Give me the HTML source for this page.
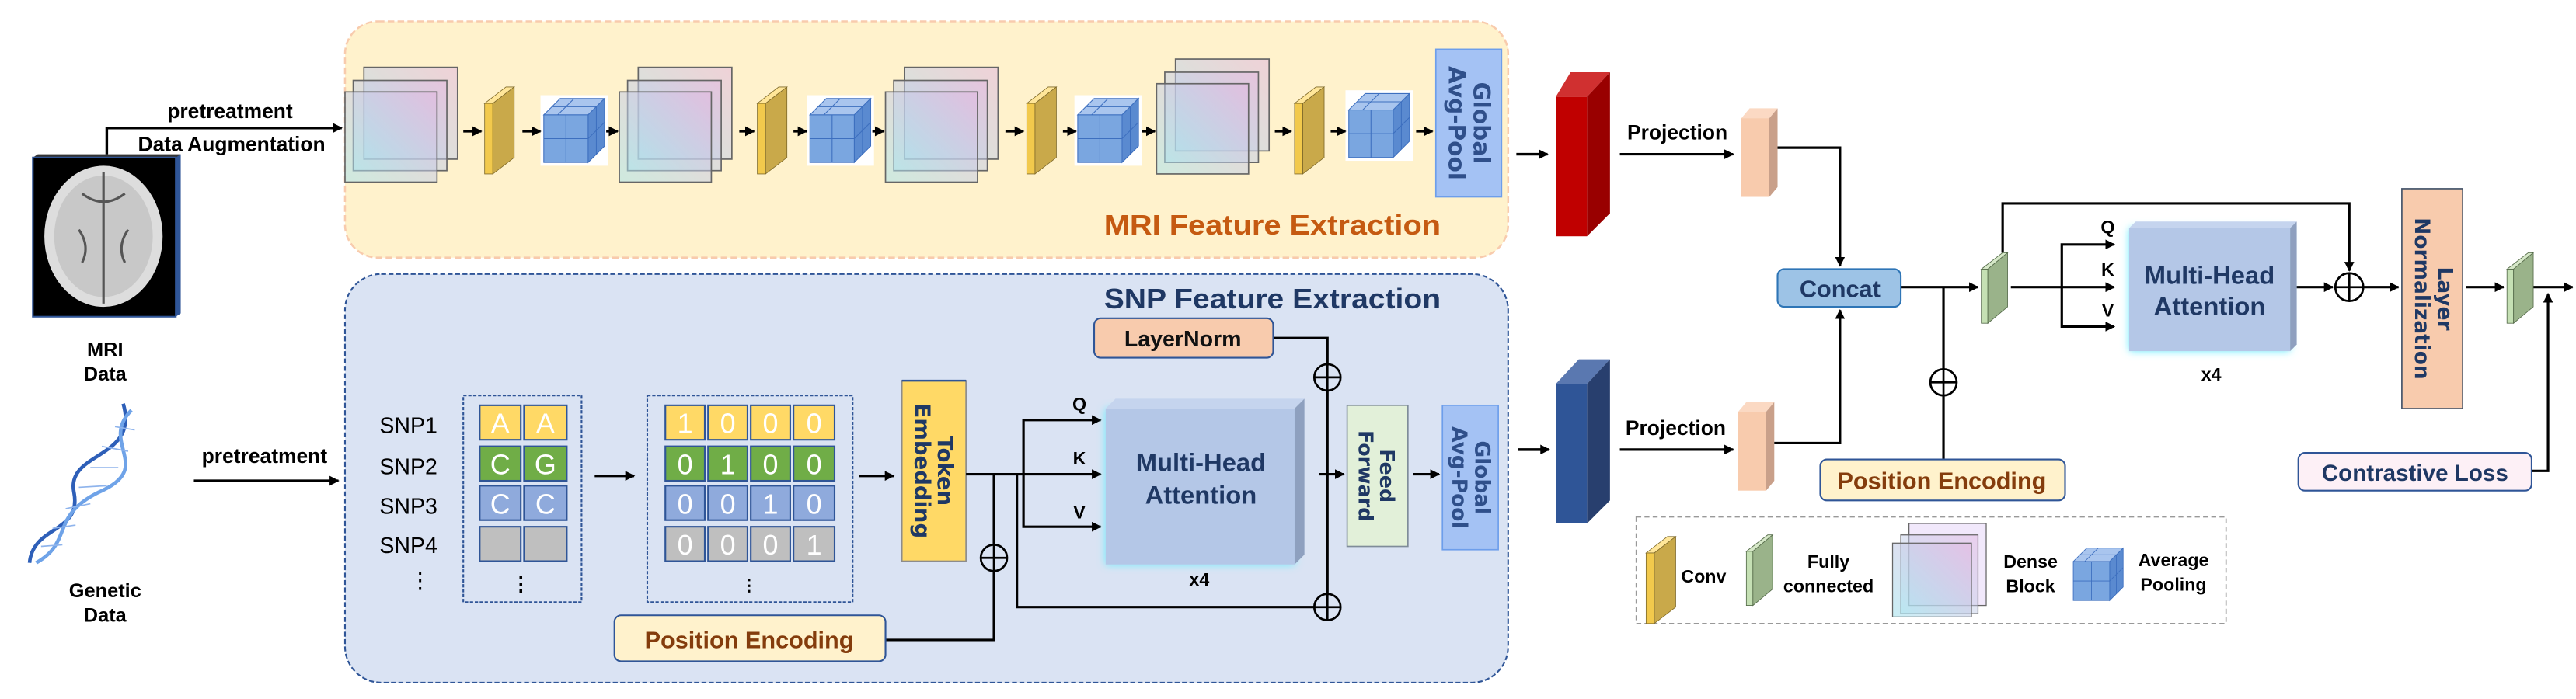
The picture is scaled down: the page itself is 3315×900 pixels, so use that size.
<!DOCTYPE html>
<html><head><meta charset="utf-8"><style>
html,body{margin:0;padding:0;background:#fff;}
svg{display:block;}
text{font-family:"Liberation Sans",sans-serif;font-weight:bold;}
.v{font-family:"DejaVu Sans","Liberation Sans",sans-serif;font-weight:bold;}
</style></head><body>
<svg width="3315" height="900" viewBox="0 0 1568 426" preserveAspectRatio="none" xmlns="http://www.w3.org/2000/svg">
<defs>
<marker id="ar" viewBox="0 0 10 10" refX="9" refY="5" markerWidth="6" markerHeight="6" markerUnits="userSpaceOnUse" orient="auto"><path d="M0,0 L10,5 L0,10 z" fill="#000"/></marker>
<linearGradient id="dg" x1="0" y1="1" x2="1" y2="0"><stop offset="0" stop-color="#a6e3ee"/><stop offset="1" stop-color="#e2b7e0"/></linearGradient>
<filter id="glow" x="-20%" y="-20%" width="140%" height="140%"><feDropShadow dx="0" dy="0" stdDeviation="2.5" flood-color="#66eeff"/></filter>
<g id="dense">
<rect x="11.5" y="0" width="57" height="56" fill="url(#dg)" fill-opacity="0.55" stroke="#666" stroke-width="0.8"/>
<rect x="5" y="8" width="57" height="55" fill="url(#dg)" fill-opacity="0.55" stroke="#666" stroke-width="0.8"/>
<rect x="0" y="15" width="56" height="55" fill="url(#dg)" fill-opacity="0.55" stroke="#666" stroke-width="0.8"/>
</g>
<g id="conv">
<polygon points="0,10 13,0 18,0 5,10" fill="#ffe699" stroke="#7f6a2a" stroke-width="0.4"/>
<rect x="0" y="10" width="5" height="43" fill="#f2c94c" stroke="#7f6a2a" stroke-width="0.4"/>
<polygon points="5,10 18,0 18,43 5,53" fill="#c9a94a" stroke="#7f6a2a" stroke-width="0.4"/>
</g>
<g id="fc">
<polygon points="0,10 13,0 16,0 4,10" fill="#d6e8c8" stroke="#556b4a" stroke-width="0.4"/>
<rect x="0" y="10" width="4" height="33" fill="#c5e0b4" stroke="#556b4a" stroke-width="0.4"/>
<polygon points="4,10 16,0 16,33 4,43" fill="#9ab38a" stroke="#556b4a" stroke-width="0.4"/>
</g>
<g id="cube">
<rect x="-2" y="-2" width="41" height="43" fill="#fff"/>
<polygon points="0,10 10,0 37,0 27,10" fill="#a9c5ee" stroke="#3d6fbf" stroke-width="0.5"/>
<polygon points="27,10 37,0 37,29 27,39" fill="#5a8ad0" stroke="#3d6fbf" stroke-width="0.5"/>
<rect x="0" y="10" width="27" height="29" fill="#7aa6e0" stroke="#3d6fbf" stroke-width="0.5"/>
<path d="M13.5,10 V39 M0,24.5 H27 M5,5 H32 M18.5,0 L8.5,10 M32,5 V34 M27,24.5 L37,14.5" stroke="#3d6fbf" stroke-width="0.5" fill="none"/>
</g>
</defs>

<rect x="210" y="13" width="708" height="144" rx="20" fill="#fff2cc" stroke="#f8cbad" stroke-width="1.2" stroke-dasharray="4,2"/>
<rect x="210" y="167" width="708" height="249" rx="22" fill="#dae3f3" stroke="#2f5597" stroke-width="1" stroke-dasharray="3,1.5"/>

<polygon points="20,96 23,94 110,94 109,96" fill="#333"/>
<polygon points="107,96 110,94 110,191 107,193" fill="#2f5597"/>
<rect x="20" y="96" width="87" height="97" fill="#000" stroke="#2f5597" stroke-width="1"/>
<ellipse cx="63" cy="144" rx="36" ry="43" fill="#ddd"/>
<ellipse cx="63" cy="144" rx="30" ry="37" fill="#c8c8c8"/>
<path d="M63,105 V185 M50,118 Q63,128 76,118 M48,140 Q55,150 50,160 M78,140 Q71,150 76,160" stroke="#555" stroke-width="1.5" fill="none"/>
<text x="64" y="217" font-size="12" text-anchor="middle">MRI</text>
<text x="64" y="232" font-size="12" text-anchor="middle">Data</text>

<g fill="none" stroke-width="2.2">
<path d="M75,246 C85,280 40,275 45,300 C50,325 20,320 18,343" stroke="#2e5fb8"/>
<path d="M80,250 C60,270 95,285 60,300 C30,315 45,330 22,343" stroke="#6fa3e8"/>
</g>
<g stroke="#8fb4ec" stroke-width="0.8">
<path d="M70,260 L82,262 M62,272 L78,275 M55,285 L72,285 M48,297 L65,296 M40,310 L55,307 M32,322 L46,320 M25,333 L38,332"/>
</g>
<text x="64" y="364" font-size="12" text-anchor="middle">Genetic</text>
<text x="64" y="379" font-size="12" text-anchor="middle">Data</text>

<path d="M65,94 V78 H208" stroke="#000" stroke-width="1.6" fill="none" marker-end="url(#ar)"/>
<text x="140" y="72" font-size="12.5" text-anchor="middle">pretreatment</text>
<text x="141" y="92" font-size="12.5" text-anchor="middle">Data Augmentation</text>
<path d="M118,293 H206" stroke="#000" stroke-width="1.6" fill="none" marker-end="url(#ar)"/>
<text x="161" y="282" font-size="12.5" text-anchor="middle">pretreatment</text>

<use href="#dense" x="210" y="41"/>
<use href="#conv" x="295" y="53"/>
<use href="#cube" x="331" y="60"/>
<use href="#dense" x="377" y="41"/>
<use href="#conv" x="461" y="53"/>
<use href="#cube" x="493" y="60"/>
<use href="#dense" x="539" y="41"/>
<use href="#conv" x="625" y="53"/>
<use href="#cube" x="656" y="60"/>
<use href="#dense" x="704" y="36"/>
<use href="#conv" x="788" y="53"/>
<use href="#cube" x="821" y="57"/>
<g stroke="#000" stroke-width="1.5" marker-end="url(#ar)">
<path d="M282,80 H293"/><path d="M318,80 H329"/><path d="M369,80 H376"/>
<path d="M450,80 H459"/><path d="M483,80 H491"/><path d="M531,80 H538"/>
<path d="M612,80 H623"/><path d="M647,80 H655"/><path d="M695,80 H703"/>
<path d="M776,80 H786"/><path d="M810,80 H819"/><path d="M862,80 H872"/>
</g>
<rect x="874" y="30" width="40" height="90" fill="#a4c2f4" stroke="#6d9eeb" stroke-width="0.8"/>
<text class="v" transform="translate(894,75) rotate(90)" font-size="14" fill="#2f4f8a" text-anchor="middle"><tspan x="0" y="-3">Global</tspan><tspan x="0" y="12">Avg-Pool</tspan></text>
<text x="877" y="143" font-size="17" fill="#c55a11" text-anchor="end" textLength="205" lengthAdjust="spacingAndGlyphs">MRI Feature Extraction</text>

<text x="877" y="188" font-size="17" fill="#1f3864" text-anchor="end" textLength="205" lengthAdjust="spacingAndGlyphs">SNP Feature Extraction</text>
<g font-size="13.5">
<text x="231" y="264" style="font-weight:normal">SNP1</text>
<text x="231" y="289" style="font-weight:normal">SNP2</text>
<text x="231" y="313" style="font-weight:normal">SNP3</text>
<text x="231" y="337" style="font-weight:normal">SNP4</text>
<text x="249" y="358" style="font-weight:normal">⋮</text>
</g>
<rect x="282" y="241" width="72" height="126" fill="none" stroke="#2f5597" stroke-width="1" stroke-dasharray="2,1"/>
<rect x="394" y="241" width="125" height="126" fill="none" stroke="#2f5597" stroke-width="1" stroke-dasharray="2,1"/>
<g stroke="#2f5597" stroke-width="1">
<rect x="292" y="247" width="25" height="21" fill="#ffd966"/><rect x="319" y="247" width="26" height="21" fill="#ffd966"/>
<rect x="292" y="272" width="25" height="21" fill="#70ad47"/><rect x="319" y="272" width="26" height="21" fill="#70ad47"/>
<rect x="292" y="296" width="25" height="21" fill="#8faadc"/><rect x="319" y="296" width="26" height="21" fill="#8faadc"/>
<rect x="292" y="321" width="25" height="21" fill="#bfbfbf"/><rect x="319" y="321" width="26" height="21" fill="#bfbfbf"/>
<rect x="405" y="247" width="24" height="21" fill="#ffd966"/><rect x="431" y="247" width="24" height="21" fill="#ffd966"/><rect x="457" y="247" width="24" height="21" fill="#ffd966"/><rect x="483" y="247" width="25" height="21" fill="#ffd966"/>
<rect x="405" y="272" width="24" height="21" fill="#70ad47"/><rect x="431" y="272" width="24" height="21" fill="#70ad47"/><rect x="457" y="272" width="24" height="21" fill="#70ad47"/><rect x="483" y="272" width="25" height="21" fill="#70ad47"/>
<rect x="405" y="296" width="24" height="21" fill="#8faadc"/><rect x="431" y="296" width="24" height="21" fill="#8faadc"/><rect x="457" y="296" width="24" height="21" fill="#8faadc"/><rect x="483" y="296" width="25" height="21" fill="#8faadc"/>
<rect x="405" y="321" width="24" height="21" fill="#bfbfbf"/><rect x="431" y="321" width="24" height="21" fill="#bfbfbf"/><rect x="457" y="321" width="24" height="21" fill="#bfbfbf"/><rect x="483" y="321" width="25" height="21" fill="#bfbfbf"/>
</g>
<g fill="#fff" font-size="17" text-anchor="middle">
<text x="304.5" y="264" style="font-weight:normal">A</text><text x="332" y="264" style="font-weight:normal">A</text>
<text x="304.5" y="289" style="font-weight:normal">C</text><text x="332" y="289" style="font-weight:normal">G</text>
<text x="304.5" y="313" style="font-weight:normal">C</text><text x="332" y="313" style="font-weight:normal">C</text>
<text x="417" y="264" style="font-weight:normal">1</text><text x="443" y="264" style="font-weight:normal">0</text><text x="469" y="264" style="font-weight:normal">0</text><text x="495.5" y="264" style="font-weight:normal">0</text>
<text x="417" y="289" style="font-weight:normal">0</text><text x="443" y="289" style="font-weight:normal">1</text><text x="469" y="289" style="font-weight:normal">0</text><text x="495.5" y="289" style="font-weight:normal">0</text>
<text x="417" y="313" style="font-weight:normal">0</text><text x="443" y="313" style="font-weight:normal">0</text><text x="469" y="313" style="font-weight:normal">1</text><text x="495.5" y="313" style="font-weight:normal">0</text>
<text x="417" y="338" style="font-weight:normal">0</text><text x="443" y="338" style="font-weight:normal">0</text><text x="469" y="338" style="font-weight:normal">0</text><text x="495.5" y="338" style="font-weight:normal">1</text>
</g>
<text x="317" y="360" font-size="12" text-anchor="middle">⋮</text>
<text x="456" y="360" font-size="10" text-anchor="middle">⋮</text>
<g stroke="#000" stroke-width="1.6" fill="none" marker-end="url(#ar)">
<path d="M362,290 H386"/><path d="M523,290 H544"/>
</g>
<rect x="549" y="232" width="39" height="110" fill="#ffd966" stroke="#8c8c8c" stroke-width="0.8"/>
<line x1="549" y1="232" x2="588" y2="232" stroke="#2f5597" stroke-width="1.2"/>
<text class="v" transform="translate(568,287) rotate(90)" font-size="13" fill="#1f3864" text-anchor="middle"><tspan x="0" y="-3">Token</tspan><tspan x="0" y="11">Embedding</tspan></text>

<g stroke="#000" stroke-width="1.5" fill="none">
<path d="M588,289 H670" marker-end="url(#ar)"/>
<path d="M623,289 V256 H670" marker-end="url(#ar)"/>
<path d="M623,289 V321 H670" marker-end="url(#ar)"/>
<path d="M605,289 V332"/>
<path d="M539,390 H605 V348"/>
<path d="M619,289 V370 H800"/>
<path d="M775,206 H808 V222"/>
<path d="M808,238 V362"/>
<path d="M803,289 H818" marker-end="url(#ar)"/>
<path d="M860,289 H876" marker-end="url(#ar)"/>
</g>
<g stroke="#000" stroke-width="1.3" fill="none">
<circle cx="605" cy="340" r="8"/><path d="M597,340 H613 M605,332 V348"/>
<circle cx="808" cy="230" r="8"/><path d="M800,230 H816 M808,222 V238"/>
<circle cx="808" cy="370" r="8"/><path d="M800,370 H816 M808,362 V378"/>
</g>
<g font-size="11">
<text x="657" y="250" text-anchor="middle">Q</text>
<text x="657" y="283" text-anchor="middle">K</text>
<text x="657" y="316" text-anchor="middle">V</text>
</g>
<g filter="url(#glow)">
<rect x="673" y="249" width="115" height="95" fill="#b4c7e7"/>
</g>
<polygon points="673,249 679,243 794,243 788,249" fill="#c5d4ee"/>
<polygon points="788,249 794,243 794,338 788,344" fill="#8ea0bf"/>
<text x="731" y="287" font-size="15.5" fill="#1f3864" text-anchor="middle">Multi-Head</text>
<text x="731" y="307" font-size="15.5" fill="#1f3864" text-anchor="middle">Attention</text>
<text x="730" y="357" font-size="11" text-anchor="middle">x4</text>
<rect x="666" y="194" width="109" height="24" rx="4" fill="#f8cbad" stroke="#2f5597" stroke-width="1"/>
<text x="720" y="211" font-size="13.5" text-anchor="middle" fill="#111">LayerNorm</text>
<rect x="374" y="375" width="165" height="28" rx="4" fill="#fff2cc" stroke="#2f5597" stroke-width="1"/>
<text x="456" y="395" font-size="14.5" text-anchor="middle" fill="#843c0c">Position Encoding</text>
<rect x="820" y="247" width="37" height="86" fill="#e2f0d9" stroke="#7f8c99" stroke-width="0.8"/>
<text class="v" transform="translate(838,290) rotate(90)" font-size="12" fill="#1f3864" text-anchor="middle"><tspan x="0" y="-2">Feed</tspan><tspan x="0" y="11">Forward</tspan></text>
<rect x="878" y="247" width="34" height="88" fill="#a4c2f4" stroke="#6d9eeb" stroke-width="0.8"/>
<text class="v" transform="translate(895,291) rotate(90)" font-size="12.5" fill="#2f4f8a" text-anchor="middle"><tspan x="0" y="-3">Global</tspan><tspan x="0" y="11">Avg-Pool</tspan></text>

<g stroke="#000" stroke-width="1.6" fill="none">
<path d="M923,94 H942" marker-end="url(#ar)"/>
<path d="M924,274 H943" marker-end="url(#ar)"/>
</g>
<polygon points="947,59 956,44 980,44 966,59" fill="#d03030"/>
<polygon points="966,59 980,44 980,130 966,144" fill="#990000"/>
<rect x="947" y="59" width="19" height="85" fill="#c00000"/>
<polygon points="947,234 961,219 980,219 966,234" fill="#5a78b0"/>
<polygon points="966,234 980,219 980,305 966,319" fill="#283f6e"/>
<rect x="947" y="234" width="19" height="85" fill="#2f5597"/>
<text x="1021" y="85" font-size="12.5" text-anchor="middle">Projection</text>
<text x="1020" y="265" font-size="12.5" text-anchor="middle">Projection</text>
<g stroke="#000" stroke-width="1.5" fill="none" marker-end="url(#ar)">
<path d="M986,94 H1055"/><path d="M986,274 H1055"/>
</g>
<polygon points="1060,72 1065,66 1082,66 1077,72" fill="#fbd9c3"/>
<polygon points="1077,72 1082,66 1082,114 1077,120" fill="#c9a08a"/>
<rect x="1060" y="72" width="17" height="48" fill="#f8cbad"/>
<polygon points="1058,251 1063,245 1080,245 1075,251" fill="#fbd9c3"/>
<polygon points="1075,251 1080,245 1080,293 1075,299" fill="#c9a08a"/>
<rect x="1058" y="251" width="17" height="48" fill="#f8cbad"/>
<g stroke="#000" stroke-width="1.5" fill="none">
<path d="M1082,90 H1120 V162" marker-end="url(#ar)"/>
<path d="M1080,270 H1120 V189" marker-end="url(#ar)"/>
<path d="M1157,175 H1204" marker-end="url(#ar)"/>
<path d="M1183,175 V225"/>
<path d="M1183,241 V280"/>
<path d="M1224,175 H1287" marker-end="url(#ar)"/>
<path d="M1255,175 V149 H1287" marker-end="url(#ar)"/>
<path d="M1255,175 V199 H1287" marker-end="url(#ar)"/>
<path d="M1219,154 V124 H1430 V165" marker-end="url(#ar)"/>
<path d="M1398,175 H1420" marker-end="url(#ar)"/>
<path d="M1439,175 H1460" marker-end="url(#ar)"/>
<path d="M1501,175 H1524" marker-end="url(#ar)"/>
<path d="M1541,175 H1566" marker-end="url(#ar)"/>
<path d="M1541,287 H1551 V179" marker-end="url(#ar)"/>
</g>
<g stroke="#000" stroke-width="1.3" fill="none">
<circle cx="1183" cy="233" r="8"/><path d="M1175,233 H1191 M1183,225 V241"/>
<circle cx="1430" cy="175" r="8.5"/><path d="M1421.5,175 H1438.5 M1430,166.5 V183.5"/>
</g>
<rect x="1082" y="164" width="75" height="23" rx="4" fill="#9dc3e6" stroke="#2e75b6" stroke-width="1"/>
<text x="1120" y="181" font-size="14.5" text-anchor="middle" fill="#1f3864">Concat</text>
<use href="#fc" x="1206" y="154"/>
<use href="#fc" x="1526" y="154"/>
<g font-size="11">
<text x="1283" y="142" text-anchor="middle">Q</text>
<text x="1283" y="168" text-anchor="middle">K</text>
<text x="1283" y="193" text-anchor="middle">V</text>
</g>
<g filter="url(#glow)">
<rect x="1296" y="139" width="98" height="75" fill="#b4c7e7"/>
</g>
<polygon points="1296,139 1300,135 1398,135 1394,139" fill="#c5d4ee"/>
<polygon points="1394,139 1398,135 1398,210 1394,214" fill="#8ea0bf"/>
<text x="1345" y="173" font-size="15.5" fill="#1f3864" text-anchor="middle">Multi-Head</text>
<text x="1345" y="192" font-size="15.5" fill="#1f3864" text-anchor="middle">Attention</text>
<text x="1346" y="232" font-size="11" text-anchor="middle">x4</text>
<rect x="1462" y="115" width="37" height="134" fill="#f8cbad" stroke="#44546a" stroke-width="0.8"/>
<text class="v" transform="translate(1481,182) rotate(90)" font-size="12.5" fill="#1f3864" text-anchor="middle"><tspan x="0" y="-3">Layer</tspan><tspan x="0" y="11">Normalization</tspan></text>
<rect x="1108" y="280" width="149" height="25" rx="4" fill="#fff2cc" stroke="#2f5597" stroke-width="1"/>
<text x="1182" y="298" font-size="14.5" text-anchor="middle" fill="#843c0c">Position Encoding</text>
<rect x="1399" y="276" width="142" height="23" rx="4" fill="#fdf0f6" stroke="#2f5597" stroke-width="1"/>
<text x="1470" y="293" font-size="14" text-anchor="middle" fill="#1f3864">Contrastive Loss</text>

<rect x="996" y="315" width="359" height="65" fill="#fff" stroke="#999" stroke-width="0.8" stroke-dasharray="3,2"/>
<use href="#conv" x="1002" y="327"/>
<use href="#fc" x="1063" y="326"/>
<text x="1037" y="355" font-size="11" text-anchor="middle">Conv</text>
<text x="1113" y="346" font-size="11" text-anchor="middle">Fully</text>
<text x="1113" y="361" font-size="11" text-anchor="middle">connected</text>
<g>
<rect x="1162" y="319" width="47" height="50" fill="#e8d8f8" fill-opacity="0.6" stroke="#666" stroke-width="0.6"/>
<rect x="1157" y="326" width="47" height="48" fill="url(#dg)" fill-opacity="0.5" stroke="#666" stroke-width="0.6"/>
<rect x="1152" y="331" width="48" height="45" fill="url(#dg)" fill-opacity="0.6" stroke="#666" stroke-width="0.6"/>
</g>
<text x="1236" y="346" font-size="11" text-anchor="middle">Dense</text>
<text x="1236" y="361" font-size="11" text-anchor="middle">Block</text>
<use href="#cube" x="1262" y="334" transform="translate(1262,334) scale(0.82) translate(-1262,-334)"/>
<text x="1323" y="345" font-size="11" text-anchor="middle">Average</text>
<text x="1323" y="360" font-size="11" text-anchor="middle">Pooling</text>
</svg>
</body></html>
